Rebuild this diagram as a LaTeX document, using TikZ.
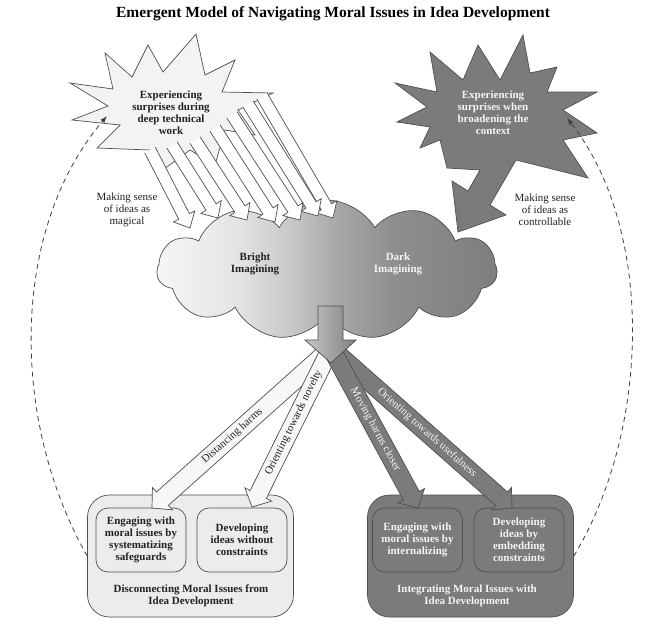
\documentclass[tikz,border=0pt]{standalone}
\usepackage{fontspec}
\setmainfont{Liberation Serif}
\usetikzlibrary{calc,shapes.symbols,arrows.meta}
\definecolor{dk}{HTML}{7B7B7B}
\definecolor{ln}{HTML}{4F4F4F}
\definecolor{lt}{HTML}{ECECEC}
\definecolor{lstar}{HTML}{F3F3F3}
\definecolor{txt}{HTML}{222222}
\definecolor{wtxt}{HTML}{F4F4F4}
\definecolor{cA}{HTML}{F6F6F6}
\definecolor{cB}{HTML}{E4E4E4}
\definecolor{cC}{HTML}{C6C6C6}
\definecolor{cD}{HTML}{A6A6A6}
\definecolor{cE}{HTML}{8E8E8E}
\definecolor{cF}{HTML}{7E7E7E}
\pgfdeclarehorizontalshading{cloudshade}{100bp}{color(0bp)=(cA); color(25bp)=(cA); color(37bp)=(cB); color(45bp)=(cC); color(52bp)=(cD); color(60bp)=(cE); color(75bp)=(cF); color(100bp)=(cF)}
\newcommand\bigarrow[7]{%
  \coordinate (hb) at ($(#4)!#7!(#3)$);
  \coordinate (p1) at ($(#3)!#5!90:(#4)$);
  \coordinate (p2) at ($(hb)!#5!90:(#4)$);
  \coordinate (p3) at ($(hb)!#6!90:(#4)$);
  \coordinate (p4) at ($(hb)!#6!-90:(#4)$);
  \coordinate (p5) at ($(hb)!#5!-90:(#4)$);
  \coordinate (p6) at ($(#3)!#5!-90:(#4)$);
  \fill[#1] (p1) -- (p2) -- (p3) -- (#4) -- (p4) -- (p5) -- (p6) -- cycle;
  \draw[#2] (p1) -- (p2) -- (p3) -- (#4) -- (p4) -- (p5) -- (p6);
}
\tikzset{
  lbl/.style={align=center, inner sep=0pt, text=txt, font=\fontsize{11}{12}\selectfont},
  blbl/.style={align=center, inner sep=0pt, text=txt, font=\fontsize{11}{12}\selectfont\bfseries},
  outline/.style={draw=ln, line width=0.7pt},
  outerbox/.style={outline, rounded corners=22pt, minimum width=206pt, minimum height=122pt, inner sep=0pt},
  innerbox/.style={outline, rounded corners=12pt, minimum width=90pt, minimum height=64pt, inner sep=0pt, align=center, font=\fontsize{11}{12}\selectfont\bfseries},
  dashline/.style={draw=black!75, line width=0.8pt, dash pattern=on 5pt off 4pt, -{Latex[length=7pt,width=5pt]}},
}
\begin{document}
\begin{tikzpicture}[x=1pt,y=-1pt]
\fill[white] (0,0) rectangle (666,627);
\useasboundingbox (0,0) rectangle (666,627);

% title
\node[font=\fontsize{15.5}{18}\selectfont\bfseries, text=black, inner sep=0pt] (title) at (333,14) {Emergent Model of Navigating Moral Issues in Idea Development};

% bottom boxes
\node[outerbox, fill=lt] (lbox) at (190.5,556) {};
\node[innerbox, fill=lt, text=txt] (lb1) at (141,540) {Engaging with\\moral issues by\\systematizing\\safeguards};
\node[innerbox, fill=lt, text=txt] (lb2) at (242,540) {Developing\\ideas without\\constraints};
\node[blbl] (ltitle) at (191,596) {Disconnecting Moral Issues from\\Idea Development};

\node[outerbox, fill=dk] (rbox) at (470.5,556) {};
\node[innerbox, fill=dk, text=wtxt] (rb1) at (417.5,540) {Engaging with\\moral issues by\\internalizing};
\node[innerbox, fill=dk, text=wtxt] (rb2) at (519,540) {Developing\\ideas by\\embedding\\constraints};
\node[blbl, text=wtxt] (rtitle) at (467,596) {Integrating Moral Issues with\\Idea Development};

% cloud
\node[cloud, cloud puffs=11, cloud puff arc=120, aspect=2.4, minimum width=340pt, minimum height=140pt, inner sep=0pt, outline, shade, shading=cloudshade] (cloud) at (327,270) {};
\node[blbl] (bright) at (255,264) {Bright\\Imagining};
\node[blbl, text=wtxt] (dark) at (398,264) {Dark\\Imagining};

% left star
\draw[outline, fill=lstar] (105,53) -- (132,77) -- (148,45) -- (163,72) -- (196,34) -- (205,75) -- (235,60) -- (222,92) -- (273,93) -- (238,110) -- (255,135) -- (225,130) -- (215,165) -- (190,150) -- (160,172) -- (150,150) -- (97,148) -- (120,125) -- (72,120) -- (108,106) -- (70,83) -- (113,89) -- cycle;

% white arrows from left star to cloud
\coordinate (w7t) at (262,96);  \coordinate (w7h) at (333,218);
\coordinate (w6t) at (248,104); \coordinate (w6h) at (318,216);
\coordinate (w5t) at (232,115); \coordinate (w5h) at (300,220);
\coordinate (w4t) at (215,128); \coordinate (w4h) at (275,222);
\coordinate (w3t) at (195,140); \coordinate (w3h) at (247,220);
\coordinate (w2t) at (172,145); \coordinate (w2h) at (218,218);
\coordinate (w1t) at (150,150); \coordinate (w1h) at (190,228);
\bigarrow{white}{outline}{w7t}{w7h}{6pt}{12pt}{13pt}
\bigarrow{white}{outline}{w6t}{w6h}{6pt}{12pt}{13pt}
\bigarrow{white}{outline}{w5t}{w5h}{6pt}{12pt}{13pt}
\bigarrow{white}{outline}{w4t}{w4h}{6pt}{12pt}{13pt}
\bigarrow{white}{outline}{w3t}{w3h}{6pt}{12pt}{13pt}
\bigarrow{white}{outline}{w2t}{w2h}{6pt}{12pt}{13pt}
\bigarrow{white}{outline}{w1t}{w1h}{6pt}{12pt}{13pt}
\node[blbl] (lstartxt) at (171,113) {Experiencing\\surprises during\\deep technical\\work};

% right star with its arrow
\draw[outline, fill=dk] (395,83) -- (437,92) -- (430,52) -- (463,80) -- (478,45) -- (500,80) -- (523,35) -- (530,73) -- (557,67) -- (547,92) -- (597,92) -- (563,110) -- (597,133) -- (563,140) -- (588,178) -- (516,160) -- (490,205) -- (506,215) -- (458,232) -- (452,181) -- (468,191) -- (480,170) -- (447,168) -- (440,140) -- (420,148) -- (430,127) -- (397,122) -- (427,107) -- cycle;
\node[blbl, text=wtxt] (rstartxt) at (493,113) {Experiencing\\surprises when\\broadening the\\context};

% side labels
\node[lbl] (magical) at (127,210) {Making sense\\of ideas as\\magical};
\node[lbl] (control) at (545,210) {Making sense\\of ideas as\\controllable};

% four arrows to the boxes
\coordinate (src) at (331,348);
\coordinate (a1h) at (152,508);
\coordinate (a2h) at (252,507);
\coordinate (a3h) at (418,508);
\coordinate (a4h) at (512,508);
\bigarrow{white!97!black}{outline}{src}{a1h}{9pt}{15pt}{14pt}
\bigarrow{white!97!black}{outline}{src}{a2h}{9pt}{15pt}{14pt}
\bigarrow{dk}{outline}{src}{a4h}{9pt}{15pt}{14pt}
\bigarrow{dk}{outline}{src}{a3h}{9pt}{15pt}{14pt}
\path (src) -- (a1h) node[lbl, pos=0.55, sloped] (l1) {Distancing harms};
\path (src) -- (a2h) node[lbl, pos=0.47, sloped] (l2) {Orienting towards novelty};
\path (src) -- (a3h) node[lbl, text=wtxt, pos=0.51, sloped] (l3) {Moving harms closer};
\path (src) -- (a4h) node[lbl, text=wtxt, pos=0.53, sloped] (l4) {Orienting towards usefulness};

% down arrow out of the cloud
\draw[outline, left color=black!22, middle color=black!3, right color=black!50] (318,306) -- (343,306) -- (343,340) -- (356,340) -- (331,363) -- (305,340) -- (318,340) -- cycle;

% dashed feedback loops
\coordinate (ldend) at (107,116);
\coordinate (rdend) at (567,118);
\draw[dashline] (lbox.west) .. controls (10,420) and (10,230) .. (ldend);
\draw[dashline] (rbox.east) .. controls (650,430) and (655,230) .. (rdend);
\end{tikzpicture}
\end{document}
